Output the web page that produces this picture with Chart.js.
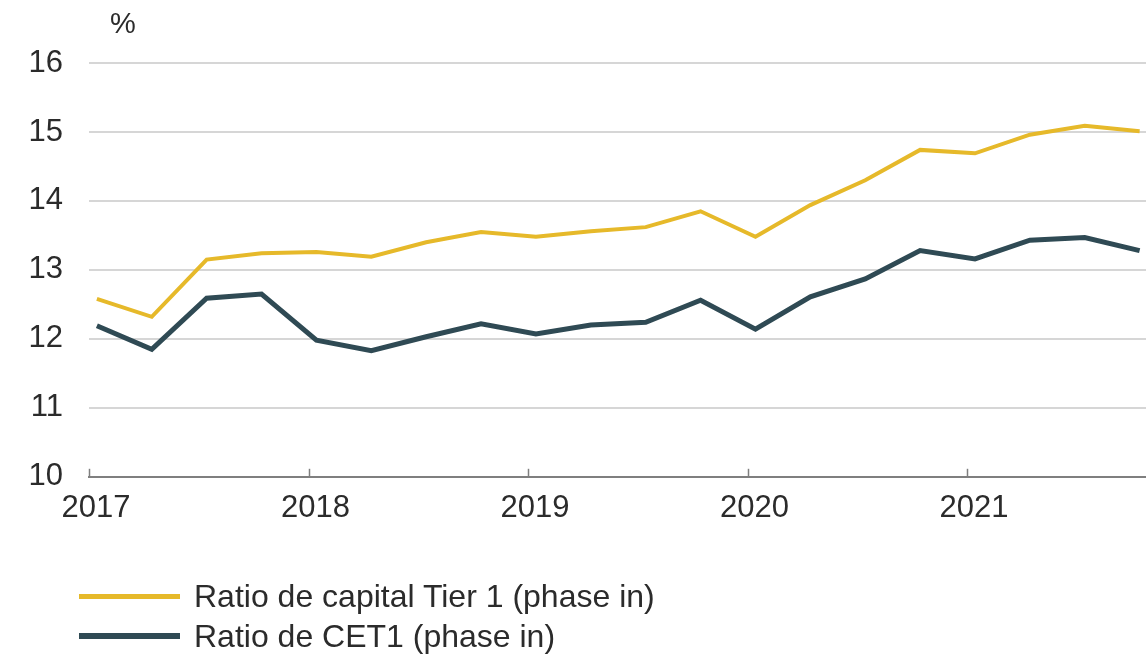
<!DOCTYPE html>
<html>
<head>
<meta charset="utf-8">
<script src="https://cdn.jsdelivr.net/npm/chart.js@4.4.1/dist/chart.umd.min.js"></script>
<style>
    html, body { margin: 0; padding: 0; background: #fff; }
    #wrap { position: relative; width: 1146px; height: 654px; font-family: 'Liberation Sans', Arial, sans-serif; color: #2b2b2b; }
    #unit { position: absolute; left: 110px; top: 7px; font-size: 29px; }
    #legend { position: absolute; left: 79px; top: 576px; }
    .item { display: flex; align-items: center; height: 40px; font-size: 32px; }
    .swatch { width: 101px; margin-right: 14px; }
</style>
</head>
<body>
<div id="wrap">
    <canvas id="chart" width="1146" height="654"></canvas>
    <div id="unit">%</div>
    <div id="legend"></div>
</div>
<script>
const quarters = [
    '2017-Q1', '2017-Q2', '2017-Q3', '2017-Q4',
    '2018-Q1', '2018-Q2', '2018-Q3', '2018-Q4',
    '2019-Q1', '2019-Q2', '2019-Q3', '2019-Q4',
    '2020-Q1', '2020-Q2', '2020-Q3', '2020-Q4',
    '2021-Q1', '2021-Q2', '2021-Q3', '2021-Q4'
];
const tier1 = [12.58, 12.32, 13.15, 13.24, 13.26, 13.19, 13.40, 13.55, 13.48, 13.56,
    13.62, 13.85, 13.48, 13.94, 14.30, 14.74, 14.69, 14.96, 15.09, 15.01];
const cet1 = [12.19, 11.85, 12.59, 12.65, 11.98, 11.83, 12.03, 12.22, 12.07, 12.20,
    12.24, 12.56, 12.14, 12.61, 12.87, 13.28, 13.16, 13.43, 13.47, 13.28];
const yearTicks = [2017, 2018, 2019, 2020, 2021];
const yTicks = [10, 11, 12, 13, 14, 15, 16];
const seriesLabels = ['Ratio de capital Tier 1 (phase in)', 'Ratio de CET1 (phase in)'];
const seriesColors = ['#e6b92a', '#2f4a54'];
const seriesWidths = [4, 5];

const tickFont = { family: "'Liberation Sans', Arial, sans-serif", size: 31 };

// quarter -> decimal year, point drawn a little after the start of the quarter
function quarterToX(q) {
    const [year, part] = q.split('-Q');
    return Number(year) + (Number(part) - 1) / 4 + 0.036;
}

function toPoints(values) {
    return values.map((v, i) => ({ x: quarterToX(quarters[i]), y: v }));
}

const upTicks = {
    id: 'upTicks',
    afterDraw(chart) {
        const x = chart.scales.x;
        const ctx = chart.ctx;
        ctx.save();
        ctx.strokeStyle = '#7f7f7f';
        ctx.lineWidth = 1.5;
        yearTicks.forEach((yr) => {
            const px = Math.round(x.getPixelForValue(yr)) + 0.5;
            ctx.beginPath();
            ctx.moveTo(px, x.top);
            ctx.lineTo(px, x.top - 8);
            ctx.stroke();
        });
        ctx.restore();
    }
};

const datasets = [tier1, cet1].map((values, i) => ({
    label: seriesLabels[i],
    data: toPoints(values),
    borderColor: seriesColors[i],
    borderWidth: seriesWidths[i],
    pointRadius: 0,
    tension: 0,
    fill: false
}));

// note: chart.js reserves tick padding twice in the axis size
new Chart(document.getElementById('chart').getContext('2d'), {
    type: 'line',
    data: { datasets: datasets.reverse() },
    options: {
        responsive: false,
        animation: false,
        layout: { autoPadding: false, padding: { top: 63, left: 2.5, right: 0, bottom: 114 } },
        plugins: { legend: { display: false }, tooltip: { enabled: false } },
        scales: {
            x: {
                type: 'linear',
                min: 2017,
                max: 2021.815,
                afterBuildTicks: (scale) => { scale.ticks = yearTicks.map((v) => ({ value: v })); },
                grid: { display: false, drawTicks: false },
                border: { display: true, color: '#7f7f7f', width: 2 },
                ticks: {
                    padding: 13,
                    labelOffset: 7,
                    color: '#2b2b2b',
                    font: tickFont,
                    callback: (v) => String(v)
                }
            },
            y: {
                min: 10,
                max: 16,
                afterBuildTicks: (scale) => { scale.ticks = yTicks.map((v) => ({ value: v })); },
                grid: { color: '#d6d6d6', lineWidth: 2, drawTicks: false },
                border: { display: false },
                ticks: {
                    padding: 26,
                    color: '#2b2b2b',
                    font: tickFont
                }
            }
        }
    },
    plugins: [upTicks]
});

document.getElementById('legend').innerHTML = seriesLabels.map((label, i) => `
    <div class="item">
        <span class="swatch" style="height: ${seriesWidths[i] + 1}px; background: ${seriesColors[i]};"></span>
        <span>${label}</span>
    </div>
`).join('');
</script>
</body>
</html>
